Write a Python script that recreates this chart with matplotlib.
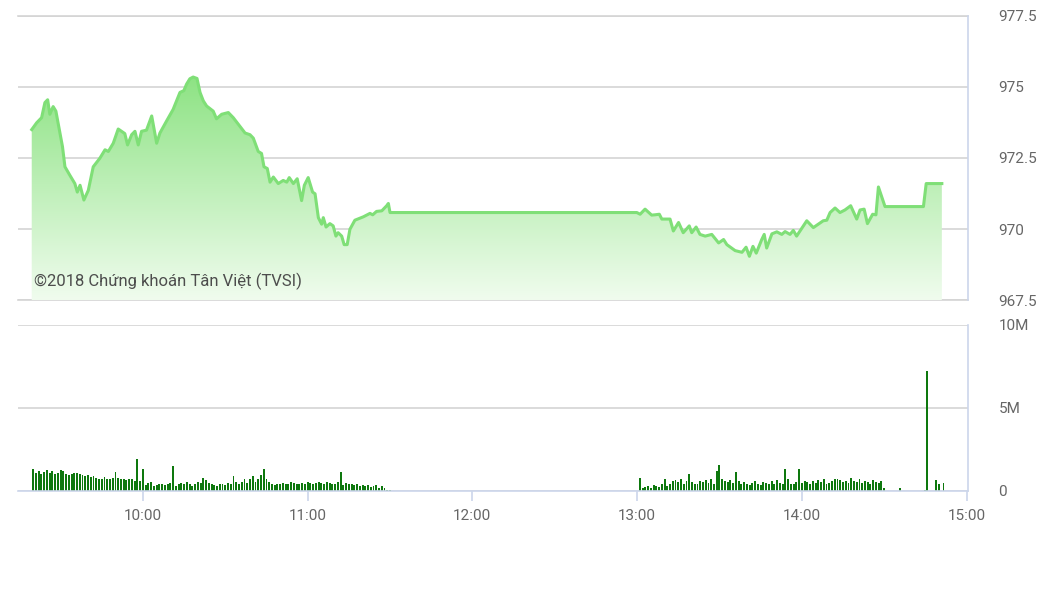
import numpy as np
import matplotlib
matplotlib.use("Agg")
import matplotlib.pyplot as plt
from matplotlib.patches import PathPatch

plt.rcParams['font.family'] = ['Roboto', 'DejaVu Sans']

# price: minutes after 09:00 and index value
price_t = [19.5, 21.3, 23.1, 24.3, 25.3, 26.1, 27.3, 28.3, 29.8, 30.7,
           31.6, 33.4, 35.2, 36.1, 37.1, 38.5, 40.1, 41.9, 44.3, 46.2,
           47.4, 49.2, 51.0, 53.4, 54.4, 55.9, 57.1, 58.3, 59.5, 61.3,
           63.2, 65.0, 66.2, 68.6, 71.0, 73.5, 74.9, 75.9, 77.1, 78.3,
           79.7, 80.8, 82.0, 83.2, 85.6, 86.8, 88.7, 91.1, 92.9, 95.3,
           97.2, 99.0, 100.2, 102.0, 103.2, 104.1, 105.3, 106.3, 107.5, 109.3,
           111.1, 112.4, 113.3, 114.8, 116.2, 117.8, 118.8, 120.2, 121.8, 122.7,
           123.9, 125.1, 125.7, 126.7, 128.1, 129.3, 130.3, 131.1, 132.4, 133.3,
           134.4, 135.4, 137.2, 140.3, 142.7, 143.7, 145.1, 147.0, 148.8, 149.4,
           150.0,
           239.9, 241.1, 242.9, 245.3, 246.5, 248.1, 249.0, 252.0, 253.2, 255.1,
           256.8, 259.0, 259.9, 261.5, 262.9, 264.8, 267.2, 269.7, 271.5, 272.7,
           275.7, 278.2, 279.7, 280.9, 282.2, 283.4, 285.4, 286.3, 287.2, 289.1,
           290.9, 292.7, 293.9, 295.7, 296.9, 298.1, 301.8, 304.2, 307.8, 309.1,
           310.3, 312.1, 313.9, 315.7, 317.8, 320.0, 321.2, 322.7, 323.9, 325.8,
           327.0, 327.9, 330.3, 344.3, 345.3, 351.0]
price = [973.50, 973.74, 973.92, 974.45, 974.55, 974.04, 974.31, 974.15, 973.38, 972.90,
         972.19, 971.89, 971.60, 971.30, 971.54, 971.02, 971.36, 972.19, 972.49, 972.79,
         972.73, 973.02, 973.52, 973.36, 972.96, 973.32, 973.44, 972.96, 973.44, 973.48,
         973.98, 973.02, 973.38, 973.80, 974.21, 974.81, 974.87, 975.10, 975.29, 975.35,
         975.30, 974.81, 974.51, 974.33, 974.15, 973.88, 974.04, 974.10, 973.92, 973.62,
         973.38, 973.32, 973.20, 972.73, 972.66, 972.19, 972.13, 971.65, 971.83, 971.60,
         971.71, 971.65, 971.81, 971.60, 971.77, 971.00, 971.54, 971.81, 971.30, 971.24,
         970.40, 970.17, 970.40, 970.07, 970.19, 970.11, 969.75, 969.87, 969.75, 969.45,
         969.45, 969.99, 970.31, 970.43, 970.55, 970.50, 970.62, 970.64, 970.82, 970.90,
         970.58,
         970.58, 970.52, 970.70, 970.49, 970.50, 970.52, 970.35, 970.35, 969.93, 970.23,
         969.87, 970.11, 969.87, 970.07, 969.81, 969.75, 969.81, 969.51, 969.63, 969.45,
         969.24, 969.18, 969.36, 969.04, 969.39, 969.15, 969.63, 969.81, 969.33, 969.83,
         969.90, 969.81, 969.91, 969.81, 969.95, 969.75, 970.29, 970.05, 970.29, 970.31,
         970.58, 970.74, 970.58, 970.67, 970.82, 970.35, 970.67, 970.70, 970.19, 970.52,
         970.50, 971.48, 970.79, 970.79, 971.60, 971.60]

# volume (millions), one bar per minute
vol_morning_start = 20
vol_morning = [1.3, 1.1, 1.2, 1.05, 1.15, 1.25, 1.1, 1.2, 1.05, 1.1,
               1.25, 1.2, 1.0, 0.95, 1.05, 1.1, 1.1, 1.0, 0.95, 0.9,
               0.95, 0.85, 0.9, 0.8, 0.75, 0.7, 0.85, 0.75, 0.7, 0.8,
               1.15, 0.8, 0.7, 0.7, 0.65, 0.75, 0.7, 0.6, 1.95, 0.6,
               1.3, 0.35, 0.5, 0.55, 0.3, 0.35, 0.4, 0.45, 0.35, 0.4,
               0.5, 1.5, 0.3, 0.45, 0.5, 0.4, 0.55, 0.45, 0.3, 0.4,
               0.55, 0.5, 0.8, 0.65, 0.5, 0.45, 0.35, 0.3, 0.4, 0.45,
               0.35, 0.5, 0.45, 0.9, 0.55, 0.45, 0.55, 0.7, 0.5, 0.75,
               0.9, 0.55, 0.75, 0.95, 1.3, 0.7, 0.55, 0.45, 0.35, 0.4,
               0.45, 0.5, 0.4, 0.45, 0.55, 0.5, 0.45, 0.4, 0.5, 0.45,
               0.55, 0.5, 0.45, 0.5, 0.55, 0.5, 0.45, 0.55, 0.5, 0.4,
               0.45, 0.55, 1.15, 0.35, 0.5, 0.45, 0.4, 0.35, 0.4, 0.3,
               0.35, 0.3, 0.35, 0.25, 0.3, 0.35, 0.2, 0.3, 0.15, 0.05, 0.05]
vol_afternoon_start = 241
vol_afternoon = [0.8, 0.2, 0.25, 0.3, 0.2, 0.35, 0.3, 0.25, 0.45,
                 0.7, 0.3, 0.45, 0.6, 0.65, 0.55, 0.7, 0.4, 0.6, 1.0,
                 0.55, 0.4, 0.45, 0.6, 0.55, 0.65, 0.5, 0.7, 0.45, 1.2,
                 1.55, 0.7, 0.6, 0.55, 0.65, 0.5, 1.15, 0.6, 0.45, 0.55,
                 0.4, 0.35, 0.5, 0.6, 0.45, 0.35, 0.55, 0.5, 0.45, 0.6,
                 0.4, 0.65, 0.5, 0.45, 1.35, 0.75, 0.45, 0.4, 0.55, 1.3,
                 0.5, 0.6, 0.55, 0.45, 0.6, 0.5, 0.65, 0.55, 0.7, 0.45,
                 0.5, 0.6, 0.7, 0.75, 0.65, 0.55, 0.6, 0.5, 0.8, 0.6,
                 0.55, 0.7, 0.5, 0.6, 0.55, 0.45, 0.65, 0.55, 0.5, 0.6,
                 0.15]
vol_late_t = [335.8, 344.9, 345.5, 348.9, 350.1, 351.6]
vol_late = [0.15, 0.05, 7.2, 0.65, 0.4, 0.48]

hour_ticks = [60, 120, 180, 240, 300, 360]
hour_labels = ['10:00', '11:00', '12:00', '13:00', '14:00', '15:00']
price_ticks = [967.5, 970, 972.5, 975, 977.5]
price_labels = ['967.5', '970', '972.5', '975', '977.5']
vol_ticks = [0, 5, 10]
vol_labels = ['0', '5M', '10M']

xmin, xmax = 14.5, 360.5
grid_c = '#d4d4d4'
axis_c = '#ccd6eb'
text_c = '#666666'

fig = plt.figure(figsize=(10.61, 5.96), dpi=100)
ax = fig.add_axes([0.01697, 0.4966, 0.8953, 0.4766])
axv = fig.add_axes([0.01697, 0.1762, 0.8953, 0.2785])

# price panel
ymin, ymax = 967.5, 977.5
poly = ax.fill_between(price_t, price, ymin, facecolor='none', edgecolor='none')
path = poly.get_paths()[0]
clip = PathPatch(path, transform=ax.transData, facecolor='none', edgecolor='none')
ax.add_patch(clip)
g = np.linspace(0, 1, 256).reshape(-1, 1)
top_rgb = np.array([138, 226, 128]) / 255
bot_rgb = np.array([240, 252, 238]) / 255
img = np.zeros((256, 1, 4))
img[..., :3] = bot_rgb + (top_rgb - bot_rgb) * g[..., None]
img[..., 3] = 1.0
img = img[::-1]
im = ax.imshow(img, extent=[xmin, xmax, ymin, 975.6], aspect='auto',
               origin='upper', zorder=1, interpolation='bilinear')
im.set_clip_path(clip)
ax.plot(price_t, price, color='#7fdf77', lw=2.2, zorder=3, solid_joinstyle='round')

ax.set_xlim(xmin, xmax)
ax.set_ylim(ymin, ymax)
ax.set_yticks(price_ticks)
ax.set_yticklabels(price_labels)
ax.yaxis.tick_right()
ax.set_xticks([])
ax.grid(axis='y', color=grid_c, lw=1.2)
ax.set_axisbelow(True)
for s in ['top', 'left', 'bottom']:
    ax.spines[s].set_visible(False)
ax.spines['right'].set_color(axis_c)
ax.spines['right'].set_linewidth(1.2)
ax.tick_params(axis='y', length=0, pad=22, labelsize=11, labelcolor=text_c)
for yv in [ymin, ymax]:
    ax.axhline(yv, color=grid_c, lw=1.2, zorder=0, clip_on=False)
ax.text(20.3, 967.86, '©2018 Chứng khoán Tân Việt (TVSI)',
        fontsize=12, color='#4d4d4d', va='bottom', ha='left', zorder=4)

# volume panel
tm = np.arange(len(vol_morning)) + vol_morning_start
ta = np.arange(len(vol_afternoon)) + vol_afternoon_start
bar_c = '#0e780e'
axv.bar(tm, vol_morning, width=0.7, color=bar_c, zorder=3)
axv.bar(ta, vol_afternoon, width=0.7, color=bar_c, zorder=3)
axv.bar(vol_late_t, vol_late, width=0.7, color=bar_c, zorder=3)
axv.set_xlim(xmin, xmax)
axv.set_ylim(0, 10)
axv.set_yticks(vol_ticks)
axv.set_yticklabels(vol_labels)
axv.yaxis.tick_right()
axv.grid(axis='y', color=grid_c, lw=1.2)
axv.set_axisbelow(True)
axv.set_xticks(hour_ticks)
axv.set_xticklabels(hour_labels)
for s in ['top', 'left']:
    axv.spines[s].set_visible(False)
axv.spines['right'].set_color(axis_c)
axv.spines['bottom'].set_color(axis_c)
axv.spines['right'].set_linewidth(1.2)
axv.spines['bottom'].set_linewidth(1.2)
axv.spines['bottom'].set_zorder(4)
axv.tick_params(axis='y', length=0, pad=22, labelsize=11, labelcolor=text_c)
axv.tick_params(axis='x', length=7, width=1.2, color=axis_c, pad=6,
                labelsize=11, labelcolor=text_c)

fig.savefig('out.png', dpi=100)
